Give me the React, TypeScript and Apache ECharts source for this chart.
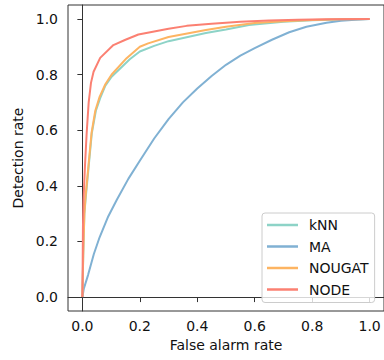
import React, { useEffect, useRef } from "react";
import * as echarts from "echarts";

const seriesNames = ["kNN", "MA", "NOUGAT", "NODE"];
const colors = ["#8dd3c7", "#80b1d3", "#fdb462", "#fb8072"];
const tickValues = [0, 0.2, 0.4, 0.6, 0.8, 1.0];

const knn: [number, number][] = [
  [0, 0], [0.003, 0.15], [0.007, 0.3], [0.012, 0.36], [0.022, 0.47], [0.033, 0.59],
  [0.047, 0.67], [0.062, 0.715], [0.08, 0.76], [0.1, 0.79], [0.165, 0.855], [0.2, 0.883],
  [0.25, 0.903], [0.3, 0.92], [0.43, 0.949], [0.5, 0.962], [0.58, 0.978], [0.7, 0.99],
  [0.8, 0.995], [0.9, 0.998], [1, 1],
];
const ma: [number, number][] = [
  [0, 0], [0.005, 0.03], [0.02, 0.08], [0.04, 0.155], [0.06, 0.215], [0.09, 0.29],
  [0.12, 0.35], [0.16, 0.425], [0.2, 0.49], [0.25, 0.57], [0.3, 0.64], [0.35, 0.7],
  [0.4, 0.75], [0.45, 0.795], [0.5, 0.835], [0.55, 0.868], [0.6, 0.895], [0.66, 0.925],
  [0.72, 0.952], [0.78, 0.972], [0.85, 0.986], [0.9, 0.993], [0.95, 0.997], [1, 1],
];
const nougat: [number, number][] = [
  [0, 0], [0.003, 0.15], [0.007, 0.3], [0.011, 0.36], [0.021, 0.47], [0.032, 0.59],
  [0.045, 0.67], [0.06, 0.72], [0.08, 0.765], [0.102, 0.8], [0.154, 0.859], [0.2, 0.9],
  [0.229, 0.912], [0.3, 0.935], [0.43, 0.96], [0.5, 0.972], [0.6, 0.985], [0.7, 0.992],
  [0.8, 0.996], [0.9, 0.999], [1, 1],
];
const node: [number, number][] = [
  [0, 0], [0.001, 0.1], [0.002, 0.25], [0.004, 0.35], [0.009, 0.47], [0.015, 0.59],
  [0.022, 0.7], [0.03, 0.77], [0.039, 0.81], [0.062, 0.86], [0.108, 0.906], [0.15, 0.925],
  [0.195, 0.944], [0.25, 0.955], [0.3, 0.965], [0.363, 0.975], [0.45, 0.983], [0.55, 0.99],
  [0.65, 0.994], [0.75, 0.997], [0.85, 0.999], [1, 1],
];
const allData = [knn, ma, nougat, node];

const FONT = "DejaVu Sans";
const TEXT = "#111111";
const EDGE = "#333333";

export default function App() {
  const ref = useRef<HTMLDivElement>(null);
  useEffect(() => {
    if (!ref.current) return;
    const chart = echarts.init(ref.current, null, { renderer: "svg" });
    const axisCommon = {
      type: "value" as const,
      min: -0.05,
      max: 1.05,
      splitLine: { show: false },
      axisLine: { show: true, lineStyle: { color: EDGE, width: 1 } },
      axisTick: { show: true, inside: false, length: 5, lineStyle: { color: EDGE, width: 1 }, customValues: tickValues },
      nameLocation: "middle" as const,
      nameTextStyle: { fontFamily: FONT, fontSize: 14, color: TEXT },
    };
    chart.setOption({
      animation: false,
      backgroundColor: "#ffffff",
      grid: { left: 68, right: -1, top: 5, bottom: 49, show: true, borderColor: EDGE, borderWidth: 1, containLabel: false },
      xAxis: {
        ...axisCommon,
        name: "False alarm rate",
        nameGap: 27,
        axisLabel: {
          customValues: tickValues,
          margin: 8,
          fontFamily: FONT,
          fontSize: 14,
          color: TEXT,
          formatter: (v: number) => v.toFixed(1),
        },
      },
      yAxis: {
        ...axisCommon,
        name: "Detection rate",
        nameGap: 41,
        axisLabel: {
          customValues: tickValues,
          margin: 10,
          fontFamily: FONT,
          fontSize: 14,
          color: TEXT,
          formatter: (v: number) => v.toFixed(1),
        },
      },
      legend: {
        orient: "vertical",
        left: 262,
        top: 213,
        padding: [5, 6, 6, 5],
        backgroundColor: "rgba(255,255,255,0.8)",
        borderColor: "#cccccc",
        borderWidth: 1,
        borderRadius: 3,
        icon: "rect",
        itemWidth: 31,
        itemHeight: 2.5,
        itemGap: 7.5,
        data: seriesNames,
        textStyle: { fontFamily: FONT, fontSize: 14, color: TEXT, lineHeight: 14, padding: [0, 0, 0, 6] },
      },
      series: seriesNames.map((name, i) => ({
        name,
        type: "line",
        data: allData[i],
        symbol: "none",
        showSymbol: false,
        smooth: false,
        lineStyle: { color: colors[i], width: 2 },
        itemStyle: { color: colors[i] },
        z: 2 + i,
      })),
    });
    return () => chart.dispose();
  }, []);
  return (
    <div
      ref={ref}
      style={{ position: "fixed", left: 0, top: 0, width: 384, height: 360, background: "#fff" }}
    />
  );
}
